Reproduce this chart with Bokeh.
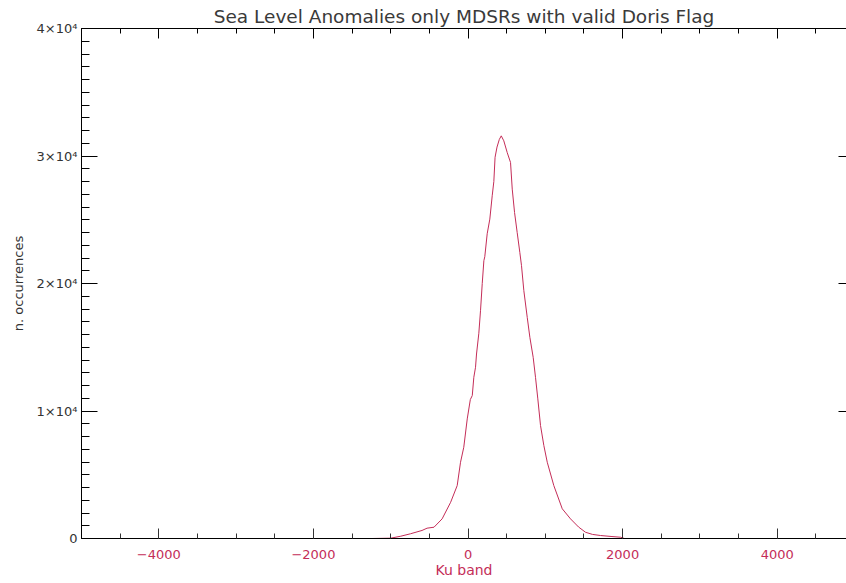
from bokeh.plotting import figure
from bokeh.models import (LinearAxis, SingleIntervalTicker, Range1d, CustomJSTickFormatter,
                          CustomLabelingPolicy)
from bokeh.embed import file_html
from bokeh.resources import INLINE

title = "Sea Level Anomalies only MDSRs with valid Doris Flag"
x_label = "Ku band"
y_label = "n. occurrences"

# Histogram of sea level anomalies (Ku band)
sla = [-5000, -1240, -1000, -870, -745, -595, -530, -440, -335, -225, -140, -97, -55, -10,
       30, 55, 75, 97, 110, 140, 162, 184, 205, 217, 248, 282, 313, 334, 350, 375, 405, 430,
       463, 507, 550, 572, 602, 636, 670, 692, 722, 766, 800, 843, 873, 903, 938, 981,
       1025, 1110, 1219, 1326, 1430, 1520, 1610, 1714, 1850, 1973, 2025, 5000]
counts = [0, 0, 25, 180, 370, 630, 810, 885, 1540, 2840, 4150, 5980, 7155, 9380,
          10900, 11210, 12640, 13430, 14470, 16100, 17900, 20000, 21790, 22100, 23900, 25050,
          26880, 28000, 29900, 30700, 31300, 31580,
          31190, 30270, 29490, 27400, 25570, 24000, 22440, 21400, 19440, 17340, 15780, 14210,
          12640, 10950, 8860, 7290, 5980, 4150, 2330, 1540, 900, 490, 320, 235, 160, 100, 0, 0]

RED = "#c42d58"
DARK = "#333333"

def no_labels():
    return CustomLabelingPolicy(code="""
for (const i of Array.from(indices)) { indices.unset(i) }
return indices
""")

p = figure(width=846, height=583, x_range=Range1d(-5000, 4896), y_range=Range1d(0, 40000),
           output_backend="svg", toolbar_location=None, title=title,
           min_border_left=81, min_border_right=0, min_border_top=28, min_border_bottom=45)
p.outline_line_color = None
p.xgrid.visible = False
p.ygrid.visible = False
p.background_fill_color = "white"
p.border_fill_color = "white"

p.title.text_font = "DejaVu Sans"
p.title.text_font_size = "18.5px"
p.title.text_font_style = "normal"
p.title.text_color = "#3a3a3a"
p.title.align = "center"
p.title.offset = 3
p.title.standoff = 4

p.line(sla, counts, line_color=RED, line_width=1)

# bottom axis
xa = p.xaxis[0]
xa.ticker = SingleIntervalTicker(interval=2000, num_minor_ticks=4)
xa.formatter = CustomJSTickFormatter(code="return tick < 0 ? '\\u2212' + Math.abs(tick) : '' + tick;")
xa.major_tick_in = 10
xa.major_tick_out = 0
xa.minor_tick_in = 5
xa.minor_tick_out = 0
xa.axis_line_color = "black"
xa.major_tick_line_color = DARK
xa.minor_tick_line_color = DARK
xa.major_label_text_color = RED
xa.major_label_text_font = "DejaVu Sans"
xa.major_label_text_font_size = "13px"
xa.major_label_standoff = 11
xa.axis_label = x_label
xa.axis_label_text_color = RED
xa.axis_label_text_font = "DejaVu Sans"
xa.axis_label_text_font_size = "14px"
xa.axis_label_text_font_style = "normal"
xa.axis_label_standoff = 0

# left axis
ya = p.yaxis[0]
ya.ticker = SingleIntervalTicker(interval=10000, num_minor_ticks=10)
ya.formatter = CustomJSTickFormatter(code="return tick == 0 ? '0' : (tick/10000) + '\\u00d710\\u2074';")
ya.major_tick_in = 16
ya.major_tick_out = 0
ya.minor_tick_in = 8
ya.minor_tick_out = 0
ya.axis_line_color = "black"
ya.major_tick_line_color = "black"
ya.minor_tick_line_color = "black"
ya.major_label_text_color = DARK
ya.major_label_text_font = "DejaVu Sans"
ya.major_label_text_font_size = "13px"
ya.major_label_standoff = 4
ya.axis_label = y_label
ya.axis_label_text_color = DARK
ya.axis_label_text_font = "DejaVu Sans"
ya.axis_label_text_font_size = "13px"
ya.axis_label_text_font_style = "normal"
ya.axis_label_standoff = 8

# top axis (ticks only)
ta = LinearAxis(ticker=SingleIntervalTicker(interval=2000, num_minor_ticks=4),
                major_tick_in=10, major_tick_out=0, minor_tick_in=5, minor_tick_out=0,
                major_label_policy=no_labels(), major_label_standoff=0,
                major_label_text_font_size="0px",
                axis_line_color="black", major_tick_line_color="black",
                minor_tick_line_color="black")
p.add_layout(ta, "above")

# right axis (ticks only, mostly outside the window)
ra = LinearAxis(ticker=SingleIntervalTicker(interval=10000, num_minor_ticks=10),
                major_tick_in=8, major_tick_out=0, minor_tick_in=0, minor_tick_out=0,
                major_label_policy=no_labels(), major_label_standoff=0,
                major_label_text_font_size="0px",
                axis_line_color=None, major_tick_line_color="black",
                minor_tick_line_color=None)
p.add_layout(ra, "right")

open("out.html", "w").write(file_html(p, INLINE))
